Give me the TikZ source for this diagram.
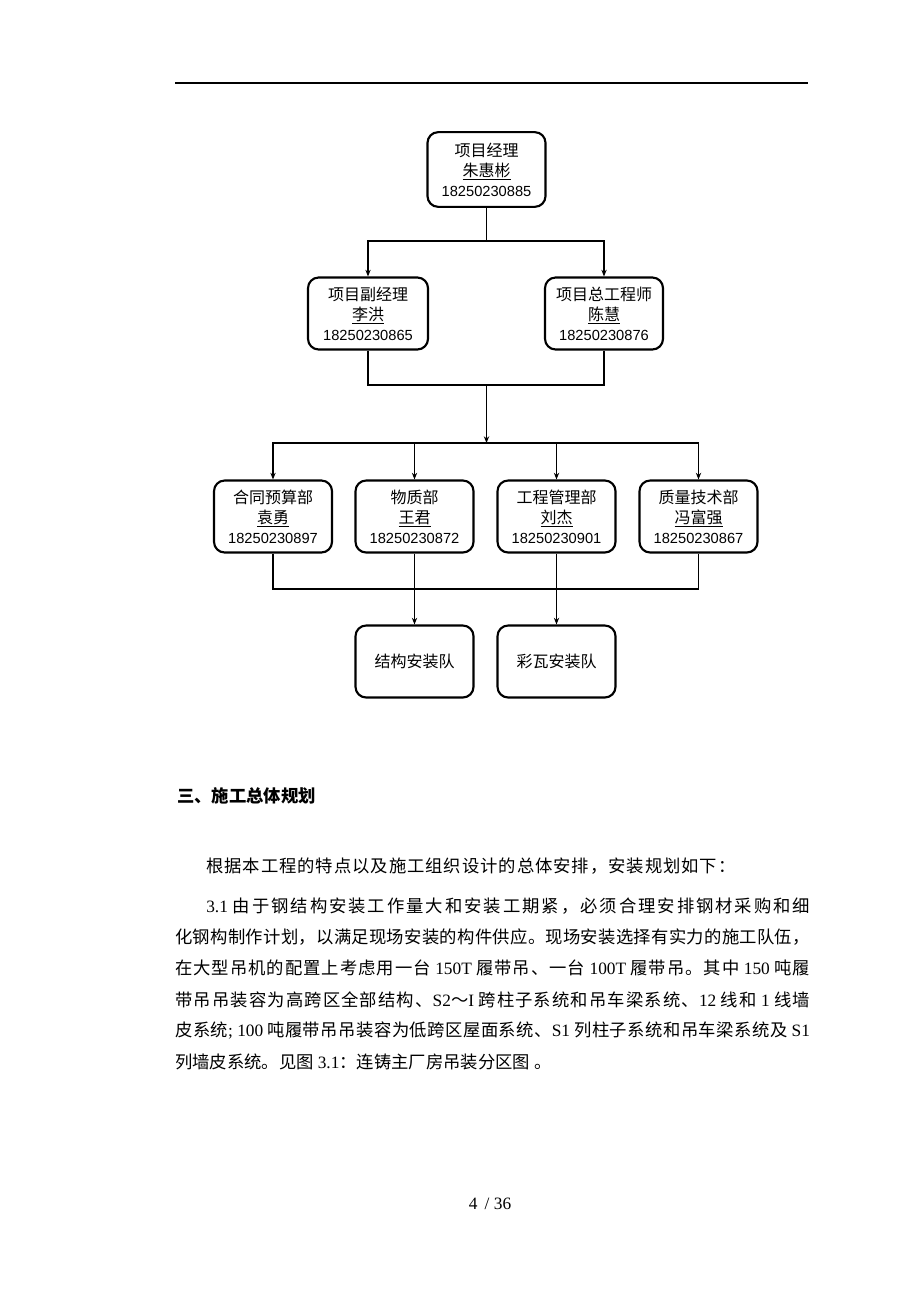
\documentclass[tikz,border=0pt]{standalone}
\usepackage{fontspec}
\setmainfont{Liberation Serif}
\newfontfamily\cjk{Noto Sans CJK SC}
\newfontfamily\sans{Liberation Sans}
\usetikzlibrary{arrows.meta}
\XeTeXinterchartokenstate=1
\newcount\mycnt
\mycnt="4E00
\loop \XeTeXcharclass\mycnt=200 \advance\mycnt by 1 \ifnum\mycnt<"A000 \repeat
\XeTeXcharclass"3001=200
\XeTeXcharclass"3002=200
\XeTeXcharclass"FF0C=200
\XeTeXcharclass"FF1A=200
\XeTeXcharclass"FF1B=200
\XeTeXcharclass"FF5E=200
\XeTeXinterchartoks 200 200 = {\hskip 0pt plus 3pt\relax}
\newcommand\lt[1]{{\rmfamily #1}}
\newcommand\card[3]{{\cjk #1}\\{\cjk\underline{#2}}\\{\sans\fontsize{11}{15}\selectfont #3}}
\tikzset{
  box/.style={draw, line width=1.6pt, rounded corners=8pt, inner sep=0pt, align=center,
    minimum width=88.5pt, minimum height=54pt, font=\cjk\fontsize{12}{15}\selectfont},
  conn/.style={line width=0.9pt},
  arr/.style={conn, -{Stealth[length=5pt,width=4pt]}},
  body/.style={anchor=base west, inner sep=0pt, font=\cjk\fontsize{13}{16}\selectfont},
}
\begin{document}
\begin{tikzpicture}[x=0.75pt,y=-0.75pt]
\useasboundingbox (0,0) rectangle (920,1302);
\fill[white] (0,0) rectangle (920,1302);
% header rule
\coordinate (r1) at (175,83);
\coordinate (r2) at (808,83);
\draw[line width=0.8pt] (r1) -- (r2);
% nodes
\node[box, minimum height=56pt] (top) at (486.5,169.5) {\card{项目经理}{朱惠彬}{18250230885}};
\node[box, minimum width=90pt] (ml) at (368,313.5) {\card{项目副经理}{李洪}{18250230865}};
\node[box] (mr) at (604,313.5) {\card{项目总工程师}{陈慧}{18250230876}};
\node[box] (b1) at (273,516.5) {\card{合同预算部}{袁勇}{18250230897}};
\node[box] (b2) at (414.5,516.5) {\card{物质部}{王君}{18250230872}};
\node[box] (b3) at (556.5,516.5) {\card{工程管理部}{刘杰}{18250230901}};
\node[box] (b4) at (698.5,516.5) {\card{质量技术部}{冯富强}{18250230867}};
\node[box] (t1) at (414.5,661.5) {结构安装队};
\node[box] (t2) at (556.5,661.5) {彩瓦安装队};
% connectors
\coordinate (j1) at (486.5,241);
\coordinate (j2) at (486.5,385);
\coordinate (j3) at (486.5,443);
\coordinate (h1) at (273,589);
\coordinate (h2) at (698.5,589);
\draw[conn] (top.south) -- (j1);
\draw[arr] (j1) -| (ml.north);
\draw[arr] (j1) -| (mr.north);
\draw[conn] (ml.south) |- (j2);
\draw[conn] (mr.south) |- (j2);
\draw[arr] (j2) -- (j3);
\draw[arr] (j3) -| (b1.north);
\draw[arr] (j3) -| (b2.north);
\draw[arr] (j3) -| (b3.north);
\draw[arr] (j3) -| (b4.north);
\draw[conn] (b1.south) -- (h1) -- (h2) -- (b4.south);
\draw[arr] (b2.south) -- (t1.north);
\draw[arr] (b3.south) -- (t2.north);
% text
\node[anchor=base west, inner sep=0pt, font=\cjk\bfseries\fontsize{13}{16}\selectfont] (hd) at (177,802) {三、施工总体规划};
\node[body] (p0) at (206,872) {\makebox[397pt][s]{根据本工程的特点以及施工组织设计的总体安排，安装规划如下：}};
\node[body] (p1) at (206,912) {\makebox[453pt][s]{\lt{3.1} 由于钢结构安装工作量大和安装工期紧，必须合理安排钢材采购和细}};
\node[body] (p2) at (175,943) {\makebox[476pt][s]{化钢构制作计划，以满足现场安装的构件供应。现场安装选择有实力的施工队伍，}};
\node[body] (p3) at (175,974) {\makebox[476pt][s]{在大型吊机的配置上考虑用一台 \lt{150T} 履带吊、一台 \lt{100T} 履带吊。其中 \lt{150} 吨履}};
\node[body] (p4) at (175,1006) {\makebox[476pt][s]{带吊吊装容为高跨区全部结构、\lt{S2}～\lt{I} 跨柱子系统和吊车梁系统、\lt{12} 线和 \lt{1} 线墙}};
\node[body] (p5) at (175,1036) {\makebox[476pt][s]{皮系统\lt{;} \lt{100} 吨履带吊吊装容为低跨区屋面系统、\lt{S1} 列柱子系统和吊车梁系统及 \lt{S1}}};
\node[body] (p6) at (175,1068) {列墙皮系统。见图 \lt{3.1}：连铸主厂房吊装分区图 。};
\node[anchor=base, inner sep=0pt, font=\fontsize{13}{16}\selectfont] (pg) at (490,1209) {4 \,/ 36};
\end{tikzpicture}
\end{document}
